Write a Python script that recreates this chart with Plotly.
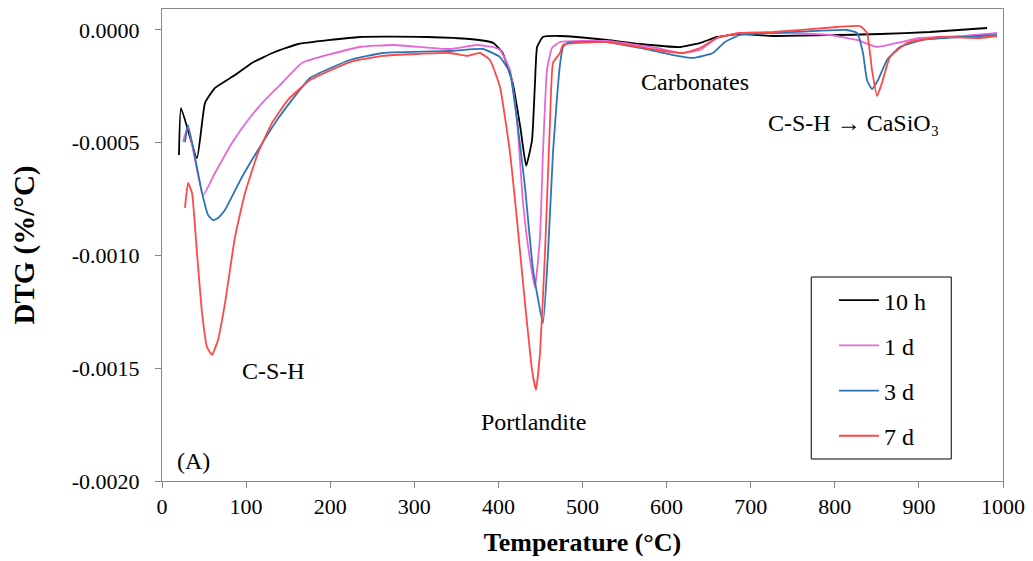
import plotly.graph_objects as go

# ---- data (Temperature °C, DTG %/°C) ----
t_10h = [20.2, 22.6, 41.6, 51.1, 63.0, 86.8, 107, 134, 162, 235, 315, 366, 394, 405, 417, 426, 433, 440, 443.5,
         446, 453, 473, 529, 568, 616, 640, 660, 687, 727, 854, 913, 981]
v_10h = [-0.000554, -0.000346, -0.000568, -0.000324, -0.000257, -0.000200, -0.000146, -0.0000976, -0.0000621,
         -0.000031, -0.000031, -0.000040, -0.0000576, -0.000102, -0.000235, -0.000430, -0.000603, -0.000488,
         -0.000235, -0.0000754, -0.000031, -0.0000266, -0.0000443, -0.000062, -0.0000754, -0.0000576, -0.000031,
         -0.0000177, -0.0000266, -0.0000177, -0.0000089, 0.0000089]

t_1d = [25.0, 30.9, 48.8, 63.0, 83.2, 102.3, 122.5, 142.7, 166.5, 235.4, 274.7, 342.4, 374.5, 393.6, 401.9, 413.8,
        422.1, 429.3, 437.6, 443.5, 449.5, 453.0, 457.8, 463.7, 473.2, 529.1, 588.6, 615.9, 639.7, 659.9, 687.3,
        726.5, 794.3, 826.4, 850.2, 874.0, 901.3, 952.4, 992.9]
v_1d = [-0.000497, -0.000430, -0.000732, -0.000634, -0.000501, -0.000399, -0.000310, -0.000235, -0.000146,
        -0.0000754, -0.0000665, -0.0000843, -0.0000665, -0.0000754, -0.0000887, -0.000177, -0.000399, -0.000767,
        -0.00102, -0.00114, -0.000918, -0.000545, -0.000177, -0.0000798, -0.0000532, -0.0000488, -0.0000798,
        -0.000102, -0.0000887, -0.0000355, -0.0000133, -0.0000133, -0.0000222, -0.0000443, -0.0000754,
        -0.0000576, -0.0000355, -0.0000266, -0.0000133]

t_3d = [27.3, 30.9, 47.6, 54.7, 60.6, 66.6, 74.9, 95.1, 114.2, 134.4, 154.6, 176.0, 223.5, 262.8, 342.4, 381.7,
        401.9, 413.8, 422.1, 431.6, 441.1, 453.0, 459.0, 464.9, 469.7, 473.2, 476.8, 481.6, 529.1, 568.4, 607.6,
        631.4, 655.2, 669.4, 687.3, 726.5, 814.5, 826.4, 833.5, 838.3, 844.2, 851.4, 862.1, 877.5, 904.9, 952.4,
        992.9]
v_3d = [-0.000497, -0.000421, -0.000723, -0.000820, -0.000843, -0.000834, -0.000798, -0.000652, -0.000532,
        -0.000412, -0.000310, -0.000213, -0.000133, -0.000102, -0.0000931, -0.0000843, -0.000120, -0.000191,
        -0.000399, -0.000696, -0.00106, -0.00130, -0.000989, -0.000545, -0.000300, -0.000155, -0.0000750,
        -0.0000576, -0.0000532, -0.0000798, -0.000111, -0.000124, -0.000102, -0.0000532, -0.0000222, -0.0000133,
        0.0, -0.0000133, -0.000102, -0.000222, -0.000262, -0.000222, -0.000133, -0.0000754, -0.0000443,
        -0.000031, -0.0000222]

t_7d = [27.3, 30.9, 35.7, 41.6, 47.6, 53.5, 59.5, 66.6, 74.9, 86.8, 98.7, 114.2, 130.8, 149.8, 176.0, 223.5, 262.8,
        342.4, 362.7, 378.1, 390.0, 401.9, 413.8, 422.1, 431.6, 440.0, 444.7, 449.5, 455.4, 461.4, 464.9, 473.2,
        476.8, 529.1, 588.6, 619.5, 639.7, 659.9, 687.3, 726.5, 802.6, 830.0, 838.3, 844.2, 850.2, 856.1, 865.6,
        885.8, 925.1, 972.7, 992.9]
v_7d = [-0.000789, -0.000678, -0.000723, -0.000989, -0.001255, -0.001406, -0.001441, -0.001375, -0.001211,
        -0.000918, -0.000723, -0.000545, -0.000412, -0.000310, -0.000222, -0.000142, -0.000115, -0.000102,
        -0.000115, -0.000102, -0.000133, -0.000253, -0.000545, -0.000843, -0.001211, -0.001508, -0.001596,
        -0.001432, -0.000989, -0.000399, -0.000146, -0.000102, -0.0000665, -0.0000532, -0.0000887, -0.000102,
        -0.0000798, -0.0000355, -0.0000133, -0.0000089, 0.0000133, 0.0000177, -0.0000133, -0.000177, -0.000293,
        -0.000235, -0.000120, -0.0000576, -0.000031, -0.0000355, -0.0000266]

series_names = ["10 h", "1 d", "3 d", "7 d"]
series_colors = ["#000000", "#E668D6", "#2E75B6", "#FF4848"]

x_ticks = [0, 100, 200, 300, 400, 500, 600, 700, 800, 900, 1000]
y_tickvals = [0.0, -0.0005, -0.0010, -0.0015, -0.0020]
y_ticktext = ["0.0000", "-0.0005", "-0.0010", "-0.0015", "-0.0020"]

labels = ["C-S-H", "Portlandite", "Carbonates", "C-S-H → CaSiO₃", "(A)"]
label_x = [132, 442, 634, 822, 37]
label_y = [-0.001512, -0.001738, -0.000231, -0.000412, -0.001911]

FONT = "Liberation Serif, Times New Roman, serif"

fig = go.Figure()
for t, v, name, col in zip([t_10h, t_1d, t_3d, t_7d], [v_10h, v_1d, v_3d, v_7d], series_names, series_colors):
    fig.add_trace(go.Scatter(x=t, y=v, mode="lines", name=name, legendgroup=name,
                             line=dict(color=col, width=1.8, shape="spline", smoothing=0.4)))

for txt, lx, ly in zip(labels, label_x, label_y):
    fig.add_annotation(x=lx, y=ly, text=txt, showarrow=False, xref="x", yref="y",
                       font=dict(family=FONT, size=24, color="#000000"))

# legend box
fig.add_shape(type="rect", xref="paper", yref="paper", x0=0.772, x1=0.9385, y0=0.0466, y1=0.4322,
              line=dict(color="#000000", width=1), fillcolor="rgba(0,0,0,0)")

fig.update_layout(
    width=1025, height=553,
    margin=dict(l=154, r=30, t=1, b=80),
    paper_bgcolor="white", plot_bgcolor="white",
    font=dict(family=FONT, size=22, color="#000000"),
    showlegend=True,
    legend=dict(x=0.799, y=0.430, xanchor="left", yanchor="top", bgcolor="rgba(0,0,0,0)",
                borderwidth=0, traceorder="grouped", tracegroupgap=11, itemwidth=40,
                font=dict(family=FONT, size=24, color="#000000")),
    xaxis=dict(range=[0, 1000], tickvals=x_ticks, showgrid=False, zeroline=False,
               showline=True, linecolor="#868686", linewidth=1, mirror=True,
               ticks="outside", ticklen=6, tickcolor="#868686",
               title=dict(text="<b>Temperature (°C)</b>", font=dict(family=FONT, size=26), standoff=14)),
    yaxis=dict(range=[-0.0020, 0.0000931], tickvals=y_tickvals, ticktext=y_ticktext, showgrid=False,
               zeroline=False, showline=True, linecolor="#868686", linewidth=1, mirror=True,
               ticks="outside", ticklen=6, tickcolor="#868686", ticklabelstandoff=11,
               title=dict(text="<b>DTG (%/°C)</b>", font=dict(family=FONT, size=29), standoff=32)),
)

fig.write_html("out.html")
